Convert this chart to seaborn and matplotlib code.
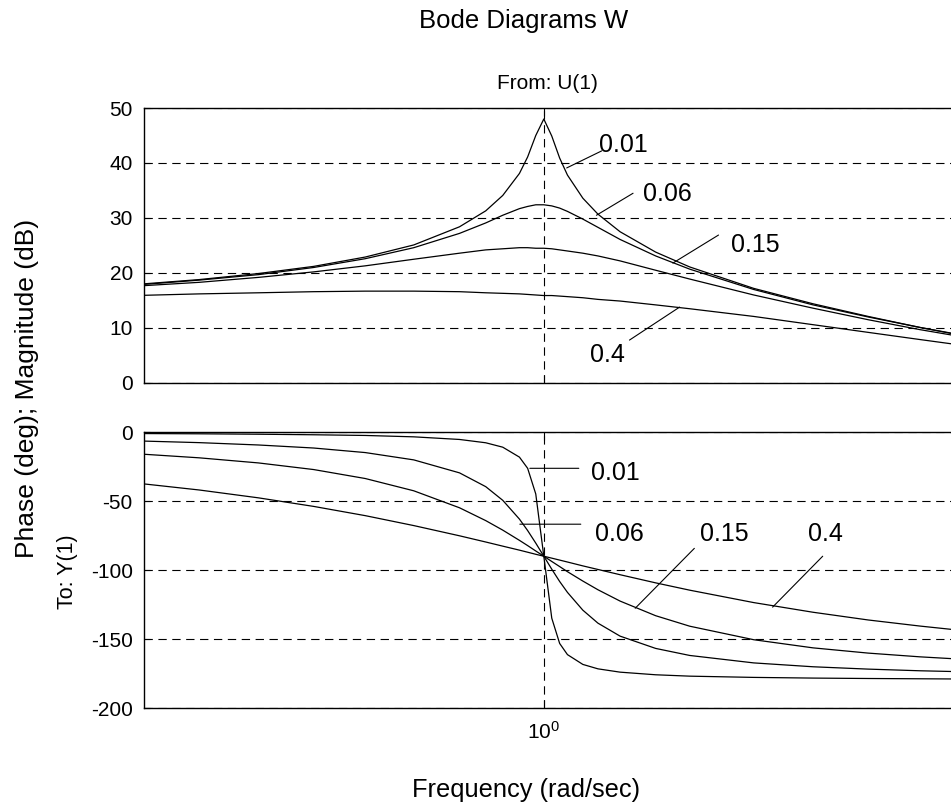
import numpy as np
import pandas as pd
import matplotlib
matplotlib.use("Agg")
import matplotlib.pyplot as plt
import seaborn as sns
from matplotlib.ticker import FixedLocator, NullLocator

# frequencies (rad/sec) and readings for each damping ratio
freq = [0.6, 0.65, 0.7, 0.75, 0.8, 0.85, 0.9, 0.93, 0.95, 0.97, 0.98, 0.99, 1.0,
        1.01, 1.02, 1.03, 1.05, 1.07, 1.1, 1.15, 1.2, 1.3, 1.4, 1.5, 1.6, 1.7]
zetas = ["0.01", "0.06", "0.15", "0.4"]

mag_001 = [17.9, 18.8, 19.9, 21.2, 22.9, 25.1, 28.4, 31.3, 34.1, 38.1, 41.1, 45.0, 48.0,
           44.9, 40.9, 37.8, 33.6, 30.7, 27.5, 23.8, 21.1, 17.2, 14.4, 12.1, 10.1, 8.5]
mag_006 = [17.8, 18.7, 19.7, 21.0, 22.6, 24.6, 27.2, 29.1, 30.5, 31.7, 32.1, 32.4, 32.4,
           32.2, 31.8, 31.2, 29.8, 28.3, 26.1, 23.1, 20.7, 17.0, 14.2, 12.0, 10.1, 8.4]
mag_015 = [17.6, 18.3, 19.2, 20.2, 21.3, 22.5, 23.6, 24.2, 24.4, 24.6, 24.6, 24.5, 24.5,
           24.4, 24.2, 24.0, 23.6, 23.1, 22.2, 20.5, 18.9, 16.0, 13.6, 11.5, 9.7, 8.2]
mag_04 = [15.9, 16.2, 16.4, 16.6, 16.7, 16.7, 16.6, 16.4, 16.3, 16.2, 16.1, 16.0, 15.9,
          15.9, 15.8, 15.7, 15.5, 15.2, 14.9, 14.2, 13.5, 12.1, 10.6, 9.2, 7.9, 6.7]

phase_001 = [-1.1, -1.3, -1.6, -2.0, -2.5, -3.5, -5.4, -7.8, -11.0, -18.2, -26.3, -44.9, -90.0,
             -134.9, -153.2, -161.3, -168.4, -171.6, -174.0, -175.9, -176.9, -177.8, -178.3, -178.6, -178.8, -179.0]
phase_006 = [-6.4, -7.7, -9.4, -11.6, -14.9, -20.2, -29.6, -39.6, -49.5, -63.1, -71.4, -80.5, -90.0,
             -99.4, -108.3, -116.2, -129.1, -138.5, -147.9, -156.8, -161.9, -167.3, -170.1, -171.8, -173.0, -173.8]
phase_015 = [-15.7, -18.7, -22.4, -27.2, -33.7, -42.6, -54.9, -64.2, -71.1, -78.5, -82.3, -86.2, -90.0,
             -93.8, -97.5, -101.2, -108.0, -114.3, -122.5, -133.1, -140.7, -150.5, -156.4, -160.2, -162.9, -164.9]
phase_04 = [-36.9, -42.0, -47.7, -53.9, -60.6, -67.8, -75.2, -79.7, -82.7, -85.6, -87.1, -88.6, -90.0,
            -91.4, -92.8, -94.2, -97.0, -99.6, -103.4, -109.3, -114.6, -123.6, -130.6, -136.2, -140.6, -144.3]

df = pd.DataFrame({
    "freq": freq * 4,
    "zeta": np.repeat(zetas, len(freq)),
    "mag": mag_001 + mag_006 + mag_015 + mag_04,
    "phase": phase_001 + phase_006 + phase_015 + phase_04,
})

sns.set_theme(style="white")
plt.rcParams["font.family"] = ["Liberation Sans", "DejaVu Sans"]
plt.rcParams["mathtext.fontset"] = "custom"
plt.rcParams["mathtext.rm"] = "Liberation Sans"
plt.rcParams["lines.scale_dashes"] = False
plt.rcParams["axes.unicode_minus"] = False
plt.rcParams["text.color"] = "black"

fig = plt.figure(figsize=(9.51, 8.09), dpi=100)
fig.patch.set_facecolor("white")
ax_mag = fig.add_axes([0.1514, 0.5266, 0.8486, 0.3399])
ax_ph = fig.add_axes([0.1514, 0.1248, 0.8486, 0.3412])

dash = (0, (6, 4))
for ax in (ax_mag, ax_ph):
    ax.set_xscale("log")
    ax.set_xlim(10 ** -0.217, 10 ** 0.221)
    ax.set_facecolor("white")
    for s in ("left", "top", "bottom"):
        ax.spines[s].set_color("black")
        ax.spines[s].set_linewidth(1.0)
    ax.spines["right"].set_visible(False)
    ax.grid(True, color="black", linestyle=dash, linewidth=0.8)
    ax.xaxis.set_major_locator(FixedLocator([1.0]))
    ax.xaxis.set_minor_locator(NullLocator())
    ax.tick_params(axis="y", direction="in", length=4, width=0.8, colors="black",
                   labelsize=15, pad=8, left=True, right=False)
    ax.tick_params(axis="x", direction="in", length=6, width=0.8, colors="black",
                   labelsize=15, pad=9, bottom=True, top=True)

sns.lineplot(data=df, x="freq", y="mag", hue="zeta", palette=["black"] * 4,
             legend=False, ax=ax_mag, linewidth=0.9)
sns.lineplot(data=df, x="freq", y="phase", hue="zeta", palette=["black"] * 4,
             legend=False, ax=ax_ph, linewidth=0.9)

ax_mag.set_ylim(0, 50)
ax_mag.set_yticks([0, 10, 20, 30, 40, 50])
ax_mag.tick_params(axis="x", labelbottom=False)
ax_ph.set_ylim(-200, 0)
ax_ph.set_yticks([-200, -150, -100, -50, 0])
ax_ph.set_xticks([1.0])
ax_ph.set_xticklabels([r"$\mathregular{10^{0}}$"])
for ax in (ax_mag, ax_ph):
    ax.set_xlabel("")
    ax.set_ylabel("")

# labels with leader lines
mag_notes = [("0.01", (1.029, 39.1), (1.075, 42.2), (1.072, 42.0)),
             ("0.06", (1.068, 30.5), (1.118, 34.5), (1.132, 33.1)),
             ("0.15", (1.175, 21.8), (1.244, 26.9), (1.263, 23.8)),
             ("0.4", (1.185, 13.8), (1.113, 7.8), (1.059, 3.8))]
ph_notes = [("0.01", (0.9827, -26.3), (1.0447, -26.3), (1.0605, -34.9)),
            ("0.06", (0.9705, -66.8), (1.0473, -66.8), (1.0658, -79.1)),
            ("0.15", (1.121, -127.7), (1.207, -84.3), (1.215, -79.1)),
            ("0.4", (1.331, -126.9), (1.417, -90.0), (1.391, -79.1))]
for ax, notes in ((ax_mag, mag_notes), (ax_ph, ph_notes)):
    for lab, p0, p1, pt in notes:
        ax.annotate("", xy=p0, xytext=p1,
                    arrowprops=dict(arrowstyle="-", color="black", lw=0.8,
                                    shrinkA=0, shrinkB=0))
        ax.text(pt[0], pt[1], lab, fontsize=18, ha="left", va="baseline", color="black")

W, H = 951, 809
fig.text(524 / W, 1 - 28 / H, "Bode Diagrams W", fontsize=18.5, ha="center", va="baseline")
fig.text(547.5 / W, 1 - 89 / H, "From: U(1)", fontsize=15, ha="center", va="baseline")
fig.text(27.5 / W, 1 - 388 / H, "Phase (deg); Magnitude (dB)", fontsize=19, rotation=90,
         ha="center", va="center")
fig.text(67.5 / W, 1 - 572 / H, "To: Y(1)", fontsize=15.5, rotation=90, ha="center", va="center")
fig.text(526 / W, 1 - 797 / H, "Frequency (rad/sec)", fontsize=18.3, ha="center", va="baseline")

fig.savefig("out.png", dpi=100, facecolor="white")
